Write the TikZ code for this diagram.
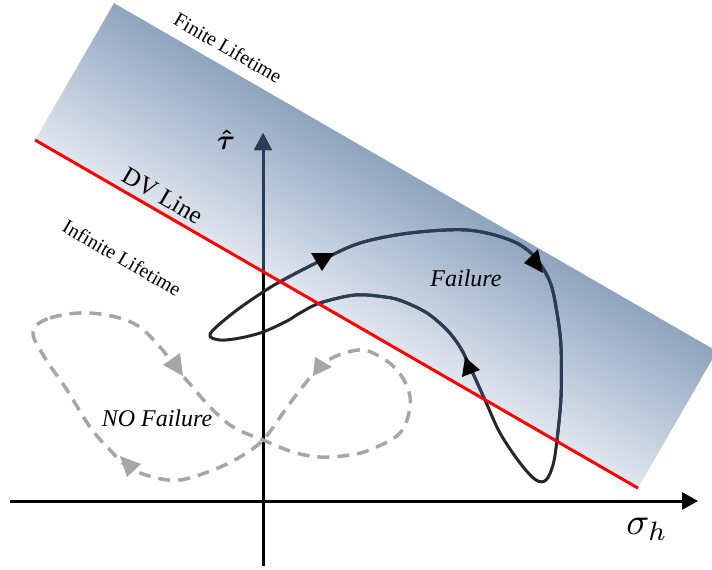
\documentclass[tikz,border=0pt]{standalone}
\usepackage{fontspec}
\setmainfont{Liberation Serif}
\usetikzlibrary{arrows.meta}
\definecolor{bandlight}{RGB}{224,230,239}
\definecolor{bandmid}{RGB}{163,180,203}
\definecolor{banddark}{RGB}{143,164,190}
\definecolor{navy}{RGB}{43,61,85}
\definecolor{curveblack}{RGB}{38,38,38}
\definecolor{dashgray}{RGB}{166,166,166}
\begin{document}
\begin{tikzpicture}[x=1pt,y=-1pt,
  axisline/.style={line width=3pt},
  solidloop/.style={line width=3pt, line join=round},
  dashloop/.style={dashgray, line width=3.5pt, dash pattern=on 12pt off 8pt},
  zonelabel/.style={font=\fontsize{20}{20}\selectfont, rotate=-30, inner sep=0pt},
  regionlabel/.style={font=\fontsize{24}{24}\selectfont\itshape, inner sep=0pt}]
\useasboundingbox (0,0) rectangle (712,570);
\fill[white] (0,0) rectangle (712,570);

% band corners
\coordinate (A) at (35,140);
\coordinate (B) at (637.9,488.1);
\coordinate (C) at (716.9,351.3);
\coordinate (D) at (114,3.2);

% shaded band
\begin{scope}[transform canvas={shift={(35,140)},rotate=-30}]
  \shade[bottom color=bandlight, middle color=bandmid, top color=banddark]
    (0,0) rectangle (696.2,-158);
\end{scope}

% axes
\coordinate (xs) at (10,501);
\coordinate (xe) at (698,501);
\coordinate (ys) at (263,566);
\coordinate (ye) at (263,133);
\draw[axisline, -{Triangle[length=16pt,width=17pt]}] (xs) -- (xe);
\draw[axisline, -{Triangle[length=17pt,width=17pt]}] (ys) -- (ye);

% dark loop
\path[save path=\darkloop] plot[smooth cycle, tension=0.55] coordinates {
  (210,334) (233,313) (263,292) (285,279) (322,260) (360,243) (410,233)
  (467,230) (510,240) (534,256) (550,282) (557,313) (561,347) (561,397)
  (557,440) (553,465) (546,480) (536,480) (520,463) (500,433) (485,400)
  (470,367) (460,347) (447,330) (427,313) (402,301) (385,297) (355,295)
  (320,303) (300,313) (287,321) (263,332) (240,338) (220,340)};
\draw[solidloop, curveblack, use path=\darkloop];

% parts inside the band
\begin{scope}
  \clip (A) -- (B) -- (C) -- (D) -- cycle;
  \draw[axisline, navy, -{Triangle[length=17pt,width=17pt]}] (ys) -- (ye);
  \draw[solidloop, navy, use path=\darkloop];
\end{scope}

% DV line
\draw[red, line width=3pt] (A) -- (B);

% dashed figure eight
\draw[dashloop] plot[smooth cycle, tension=0.6] coordinates {
  (33,332) (50,318) (90,313) (133,323) (160,347) (173,365) (190,384)
  (210,407) (233,427) (263,440) (293,452) (320,457) (350,455) (372,449)
  (400,433) (410,407) (407,386) (393,366) (373,353) (358,350) (334,357)
  (318,369) (300,390) (283,413) (263,440) (240,457) (213,470) (180,480)
  (153,477) (128,467) (110,450) (90,427) (67,390) (45,358)};

% gray arrowheads
\fill[dashgray] (315,357) -- (313,376) -- (332,367) -- cycle;
\fill[dashgray] (120,456) -- (141,464) -- (127,477) -- cycle;
\fill[dashgray] (163,365) -- (180,353) -- (183,376) -- cycle;

% black arrowheads
\fill[black] (311,253) -- (334,253) -- (322,271) -- cycle;
\fill[black] (524,263) -- (538,249) -- (543,273) -- cycle;
\fill[black] (465,357) -- (480,370) -- (462,377) -- cycle;

% labels
\node[zonelabel] (finite) at (228,48) {Finite Lifetime};
\node[zonelabel] (infinite) at (122,258) {Infinite Lifetime};
\node[zonelabel, font=\fontsize{25}{25}\selectfont] (dv) at (163,196) {DV Line};
\node[regionlabel] (fail) at (466,278) {Failure};
\node[regionlabel] (nofail) at (157,418) {NO Failure};
\node[inner sep=0pt] (tau) at (226,140) {\scalebox{2.8}{\boldmath$\hat{\tau}$}};
\node[inner sep=0pt] (sig) at (647,529) {\scalebox{3.8}{$\sigma_h$}};
\end{tikzpicture}
\end{document}
